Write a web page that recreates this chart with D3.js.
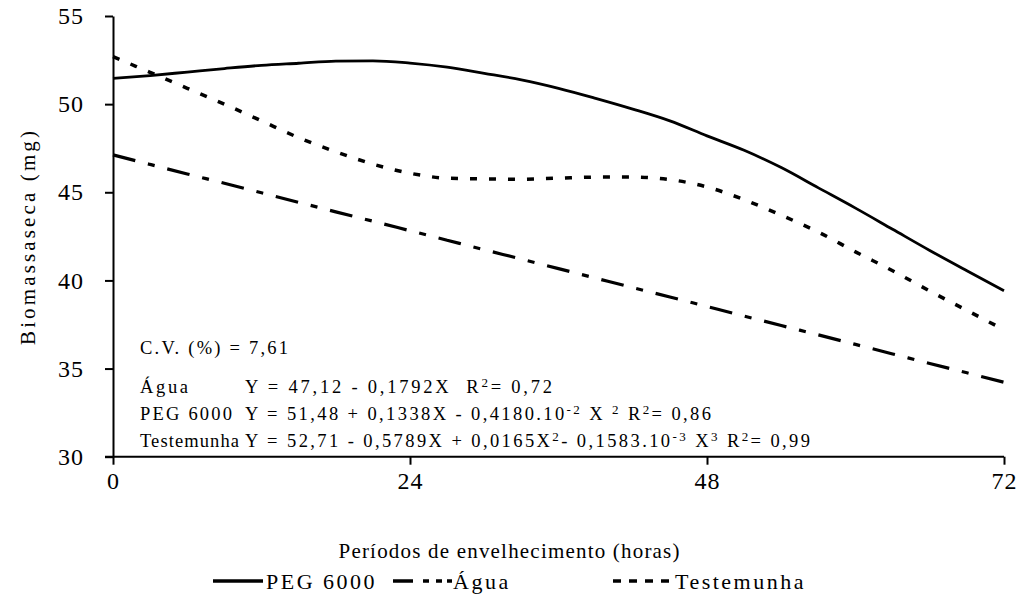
<!DOCTYPE html>
<html><head><meta charset="utf-8">
<script src="https://cdn.jsdelivr.net/npm/d3@7/dist/d3.min.js"></script>
</head>
<body style="margin:0;background:#fff"><svg id="c" width="1019" height="609"></svg>
<script>
// ---- data ----
const hours = [0, 3, 6, 9, 12, 15, 18, 21, 24, 27, 30, 33, 36, 39, 42, 45, 48, 51, 54, 57, 60, 63, 66, 69, 72];
const peg = [51.46, 51.62, 51.82, 52.02, 52.2, 52.32, 52.44, 52.46, 52.33, 52.1, 51.75, 51.38, 50.9, 50.33, 49.72, 49.05, 48.2, 47.38, 46.4, 45.25, 44.1, 42.9, 41.7, 40.55, 39.42];
const agua = [47.12, 46.58, 46.04, 45.51, 44.97, 44.43, 43.89, 43.36, 42.82, 42.28, 41.74, 41.21, 40.67, 40.13, 39.59, 39.06, 38.52, 37.98, 37.44, 36.91, 36.37, 35.83, 35.29, 34.76, 34.22];
const testemunha = [52.7, 51.8, 50.9, 50.0, 49.05, 48.1, 47.3, 46.6, 46.08, 45.8, 45.76, 45.74, 45.8, 45.86, 45.86, 45.72, 45.3, 44.58, 43.7, 42.74, 41.62, 40.55, 39.4, 38.3, 37.2];
const xTicks = [0, 24, 48, 72];
const yTicks = [30, 35, 40, 45, 50, 55];
const seriesNames = ["PEG 6000", "Água", "Testemunha"];
const xTitle = "Períodos de envelhecimento (horas)";
const yTitle = "Biomassaseca (mg)";
const cvText = "C.V. (%) = 7,61";

const FONT = "'Liberation Serif', 'Times New Roman', Times, serif";
const svg = d3.select("#c");
const x = d3.scaleLinear().domain([0, 72]).range([113, 1004]);
const y = d3.scaleLinear().domain([30, 55]).range([456.7, 16]);

// axes
const yAx = svg.append("g").attr("transform", "translate(113,0)")
  .call(d3.axisLeft(y).tickValues(yTicks).tickSize(8).tickSizeOuter(0).tickPadding(21));
const xAx = svg.append("g").attr("transform", "translate(0,456.7)")
  .call(d3.axisBottom(x).tickValues(xTicks).tickSize(8).tickSizeOuter(0).tickPadding(7));
[yAx, xAx].forEach(g => {
  g.attr("font-family", null).attr("font-size", null);
  g.selectAll("path,line").attr("stroke", "#000").attr("stroke-width", 2);
  g.selectAll("text").style("font-size", "24px").attr("fill", "#000").attr("letter-spacing", 1);
});
xAx.select(".domain").attr("d", "M105,0H1004");

// lines
const mk = vals => d3.line().x((d, i) => x(hours[i])).y(d => y(d)).curve(d3.curveMonotoneX)(vals);
svg.append("path").attr("d", mk(agua)).attr("fill", "none").attr("stroke", "#000")
  .attr("stroke-width", 3.2).attr("stroke-dasharray", "23,13,7,13");
svg.append("path").attr("d", mk(testemunha)).attr("fill", "none").attr("stroke", "#000")
  .attr("stroke-width", 3.5).attr("stroke-dasharray", "7,12");
svg.append("path").attr("d", mk(peg)).attr("fill", "none").attr("stroke", "#000")
  .attr("stroke-width", 2.8);

// annotations
const ann = svg.append("g").style("font-size", "18.5px");
ann.append("text").attr("x", 140).attr("y", 354).attr("textLength", 148).attr("lengthAdjust", "spacing").text(cvText);
function eqLine(yb, label, labelLen, eqLen, parts) {
  ann.append("text").attr("x", 140).attr("y", yb).attr("textLength", labelLen).attr("lengthAdjust", "spacing").text(label);
  const t = ann.append("text").attr("x", 245).attr("y", yb).attr("textLength", eqLen).attr("lengthAdjust", "spacing")
    .style("white-space", "pre");
  parts.forEach(p => {
    const s = t.append("tspan").text(p[0]);
    if (p[1]) s.style("font-size", "13px").attr("dy", -6);
    else if (p[2]) s.attr("dy", 6);
  });
}
eqLine(393, seriesNames[1], 48, 307, [["Y = 47,12 - 0,1792X  R"], ["2", 1], ["= 0,72", 0, 1]]);
eqLine(420, seriesNames[0], 92, 466, [["Y = 51,48 + 0,1338X - 0,4180.10"], ["-2", 1], [" X ", 0, 1], ["2", 1], [" R", 0, 1], ["2", 1], ["= 0,86", 0, 1]]);
eqLine(447, seriesNames[2], 99, 565, [["Y = 52,71 - 0,5789X + 0,0165X"], ["2", 1], ["- 0,1583.10", 0, 1], ["-3", 1], [" X", 0, 1], ["3", 1], [" R", 0, 1], ["2", 1], ["= 0,99", 0, 1]]);

// titles
svg.append("text").attr("x", 509).attr("y", 558).attr("text-anchor", "middle")
  .style("font-size", "21px").attr("textLength", 341).attr("lengthAdjust", "spacing").text(xTitle);
svg.append("text").attr("transform", "translate(35,238) rotate(-90)").attr("text-anchor", "middle")
  .style("font-size", "21px").attr("textLength", 214).attr("lengthAdjust", "spacing").text(yTitle);

// legend
const lg = svg.append("g");
const ly = 581;
const legendItems = [
  {x0: 213, x1: 263, tx: 266, dash: null, name: seriesNames[0]},
  {x0: 393, x1: 452, tx: 453, dash: "20,10,6,7,6,5", name: seriesNames[1]},
  {x0: 613, x1: 670, tx: 675, dash: "8,8", name: seriesNames[2]}
];
legendItems.forEach(d => {
  const l = lg.append("line").attr("x1", d.x0).attr("x2", d.x1).attr("y1", ly).attr("y2", ly)
    .attr("stroke", "#000").attr("stroke-width", 3.5);
  if (d.dash) l.attr("stroke-dasharray", d.dash);
  lg.append("text").attr("x", d.tx).attr("y", ly + 8).style("font-size", "22px").attr("letter-spacing", 2.5).text(d.name);
});

svg.selectAll("text").style("font-family", FONT).attr("fill", "#000");
</script></body></html>
